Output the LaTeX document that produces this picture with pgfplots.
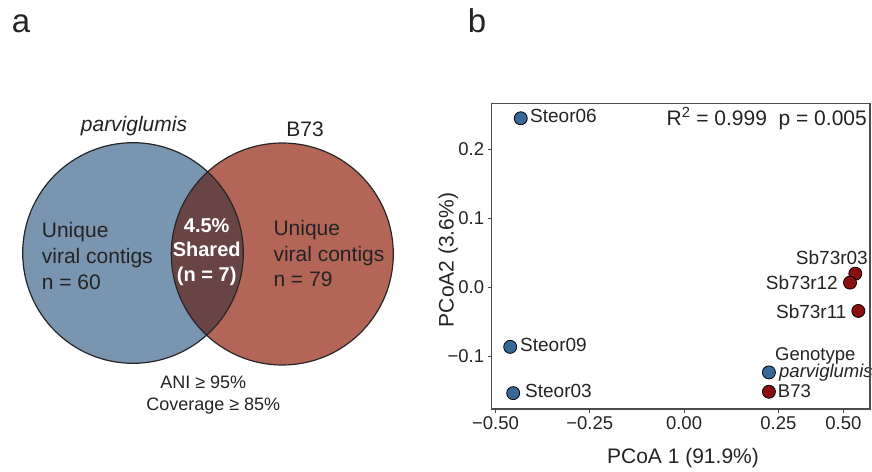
\documentclass[border=0pt]{standalone}
\usepackage{fontspec}
\setmainfont{Liberation Sans}
\usepackage{pgfplots}
\pgfplotsset{compat=1.18}
\definecolor{vblue}{RGB}{122,149,176}
\definecolor{vred}{RGB}{179,101,88}
\definecolor{vmid}{RGB}{104,68,69}
\definecolor{pblue}{RGB}{55,105,150}
\definecolor{pred}{RGB}{140,15,15}
\definecolor{txt}{RGB}{35,35,35}
\newcommand{\fs}[1]{\fontsize{#1}{#1}\selectfont}
\pgfplotstableread{
x y
-0.433 0.245
-0.461 -0.086
-0.453 -0.153
0.225 -0.123
}\parvtab
\pgfplotstableread{
x y
0.454 0.020
0.440 0.007
0.462 -0.034
0.225 -0.151
}\btab
\begin{document}
\begin{tikzpicture}
\begin{scope}[x=1pt,y=-1pt, every node/.style={inner sep=0pt, text=txt}]
\path[use as bounding box] (0,0) rectangle (872,471);
% panel labels
\node[anchor=base west, font=\fs{33}] at (11.7,32) {a};
\node[anchor=base west, font=\fs{33}] at (467.7,32) {b};
% Venn
\fill[vblue] (133,253) circle (110.3pt);
\fill[vred] (282.3,254) circle (111pt);
\begin{scope}
\clip (133,253) circle (110.3pt);
\fill[vmid] (282.3,254) circle (111pt);
\end{scope}
\draw[line width=1.2pt, black!85] (133,253) circle (110.3pt);
\draw[line width=1.2pt, black!85] (282.3,254) circle (111pt);
\node[anchor=base, font=\fs{21}\itshape] at (134,131.7) {parviglumis};
\node[anchor=base, font=\fs{21}] at (305,136) {B73};
\node[anchor=base west, font=\fs{21}] at (41.7,237.3) {Unique};
\node[anchor=base west, font=\fs{21}] at (41.7,263.3) {viral contigs};
\node[anchor=base west, font=\fs{21}] at (41.7,289.3) {n = 60};
\node[anchor=base west, font=\fs{21}] at (273.3,235) {Unique};
\node[anchor=base west, font=\fs{21}] at (273.3,261) {viral contigs};
\node[anchor=base west, font=\fs{21}] at (273.3,286) {n = 79};
\node[anchor=base, font=\fs{20}\bfseries, text=white] at (206.7,232.7) {4.5\%};
\node[anchor=base, font=\fs{20}\bfseries, text=white] at (206.7,256.7) {Shared};
\node[anchor=base, font=\fs{20}\bfseries, text=white] at (206.7,281.7) {(n = 7)};
\node[anchor=base, font=\fs{18}] at (203.3,388.3) {ANI ≥ 95\%};
\node[anchor=base, font=\fs{18}] at (213.3,410.7) {Coverage ≥ 85\%};
% scatter labels
\node[anchor=base west, font=\fs{19}] at (530,122.5) {Steor06};
\node[anchor=base west, font=\fs{19}] at (520,351) {Steor09};
\node[anchor=base west, font=\fs{19}] at (525,397.3) {Steor03};
\node[anchor=base east, font=\fs{19}] at (868,264) {Sb73r03};
\node[anchor=base east, font=\fs{19}] at (838,289.3) {Sb73r12};
\node[anchor=base east, font=\fs{19}] at (846.7,318.3) {Sb73r11};
\node[anchor=base west, font=\fs{18.5}] at (775,360.7) {Genotype};
\node[anchor=base west, font=\fs{18.5}\itshape] at (779,377.3) {parviglumis};
\node[anchor=base west, font=\fs{18.5}] at (777.7,397.3) {B73};
\node[anchor=base east, font=\fs{21}] at (867,125) {R\textsuperscript{2} = 0.999\ \ p = 0.005};
\node[anchor=base, font=\fs{21}] at (683,463) {PCoA 1 (91.9\%)};
\node[anchor=base, font=\fs{21}, rotate=90] at (453.5,260) {PCoA2 (3.6\%)};
\end{scope}
\begin{axis}[
 at={(491.7pt,-409pt)}, anchor=south west,
 scale only axis, width=378.3pt, height=305.7pt,
 xmin=-0.510, xmax=0.493, ymin=-0.176, ymax=0.2667,
 xtick={-0.5,-0.25,0,0.25,0.4225},
 xticklabels={−0.50,−0.25,0.00,0.25,0.50},
 ytick={-0.1,0,0.1,0.2},
 yticklabels={−0.1,0.0,0.1,0.2},
 tick align=outside, tick pos=left,
 major tick length=4pt,
 axis line style={draw=black!70, line width=1.1pt},
 every tick/.style={draw=black!70, line width=0.9pt},
 tick label style={font=\fs{18.5}, text=txt},
 clip=false,
]
\addplot[only marks, mark=*, mark size=6.5pt, mark options={fill=pblue, draw=black, line width=0.8pt}] table {\parvtab};
\addplot[only marks, mark=*, mark size=6.5pt, mark options={fill=pred, draw=black, line width=0.8pt}] table {\btab};
\end{axis}
\end{tikzpicture}
\end{document}
